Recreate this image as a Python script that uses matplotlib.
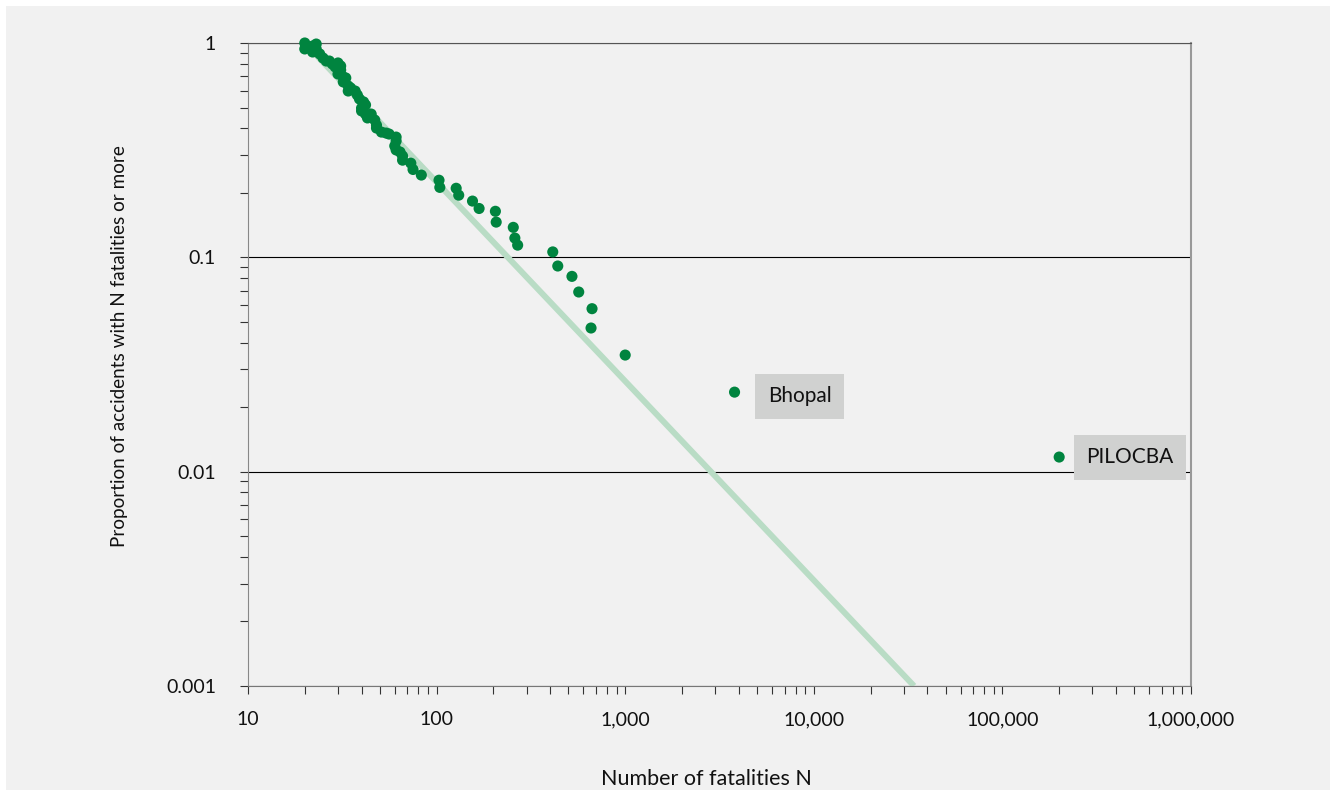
import matplotlib.pyplot as plt  # plotting library
from matplotlib.patches import Rectangle

plt.rcParams['font.family'] = ['Lato', 'DejaVu Sans']

# number of fatalities per accident (N) and share of accidents with N or more
n_fatal = [20, 20, 22, 23, 22, 23, 24, 25, 26, 27, 28, 29, 30, 31, 31, 30, 32, 33,
           32, 34, 35, 34, 37, 38, 39, 41, 42, 40, 40, 42, 45, 43, 47, 48, 48, 51,
           54, 56, 61, 61, 60, 61, 64, 66, 66, 73, 75, 83, 103, 104, 127, 131, 155,
           168, 205, 207, 255, 260, 269, 413, 439, 522, 567, 667, 659, 1000]
proportion = [1.0, 0.938, 0.968, 0.989, 0.908, 0.938, 0.889, 0.851, 0.824, 0.824,
              0.798, 0.773, 0.807, 0.781, 0.748, 0.717, 0.694, 0.687, 0.658, 0.630,
              0.617, 0.597, 0.597, 0.572, 0.548, 0.531, 0.514, 0.497, 0.482, 0.466,
              0.466, 0.447, 0.437, 0.414, 0.401, 0.384, 0.380, 0.376, 0.364, 0.349,
              0.331, 0.317, 0.310, 0.297, 0.284, 0.275, 0.257, 0.242, 0.229, 0.212,
              0.210, 0.195, 0.183, 0.169, 0.164, 0.146, 0.138, 0.123, 0.114, 0.106,
              0.0911, 0.0815, 0.0689, 0.0576, 0.0468, 0.0350]

# labelled accidents
event_names = ['Bhopal', 'PILOCBA']
event_n = [3800, 200000]
event_p = [0.0235, 0.0117]

# fitted power law line (end points)
fit_n = [20, 34000]
fit_p = [1.0, 0.001]

x_ticks = [10, 100, 1000, 10000, 100000, 1000000]
x_tick_labels = ['10', '100', '1,000', '10,000', '100,000', '1,000,000']
y_ticks = [0.001, 0.01, 0.1, 1]
y_tick_labels = ['0.001', '0.01', '0.1', '1']

green = '#00843f'
bg = '#f1f1f1'

fig = plt.figure(figsize=(13.3, 7.9), dpi=100, facecolor='white')
# grey panel with a thin white margin on the top and left
fig.patches.append(Rectangle((6 / 1330, 0), 1, 1 - 6 / 790, transform=fig.transFigure,
                             facecolor=bg, edgecolor='none', zorder=-10))
ax = fig.add_axes([248 / 1330, 1 - 686 / 790, 943 / 1330, 643 / 790])
ax.set_facecolor(bg)

ax.plot(fit_n, fit_p, color='#b9dcc5', lw=4.3, solid_capstyle='butt', zorder=2)
ax.scatter(n_fatal, proportion, s=64, color=green, edgecolors='none', zorder=3, clip_on=False)
ax.scatter(event_n, event_p, s=64, color=green, edgecolors='none', zorder=3)

# grey boxes with the accident names
offsets = [(47, -3), (51, 0)]
for name, n, p, off in zip(event_names, event_n, event_p, offsets):
    ax.annotate(name, xy=(n, p), xytext=off, textcoords='offset points',
                ha='center', va='center', fontsize=15, color='#111111',
                bbox=dict(boxstyle='square,pad=0.6', facecolor='#d0d1d0', edgecolor='none'))

ax.set_xscale('log')
ax.set_yscale('log')
ax.set_xlim(10, 1000000)
ax.set_ylim(0.001, 1)
ax.set_xticks(x_ticks)
ax.set_xticklabels(x_tick_labels)
ax.set_yticks(y_ticks)
ax.set_yticklabels(y_tick_labels)

ax.yaxis.grid(True, which='major', color='black', lw=0.8, zorder=1)
ax.set_axisbelow(True)
ax.tick_params(which='both', direction='out', length=6, width=0.8, color='#333333')
ax.tick_params(axis='x', which='major', labelsize=14, pad=12, labelcolor='#111111')
ax.tick_params(axis='y', which='major', labelsize=14, pad=17, labelcolor='#111111')

ax.spines['top'].set_color('#555555')
ax.spines['left'].set_color('#888888')
ax.spines['bottom'].set_color('#777777')
ax.spines['right'].set_color('#999999')
ax.spines['right'].set_linewidth(1.5)

fig.text(120 / 1330, 1 - 346 / 790, 'Proportion of accidents with N fatalities or more',
         rotation=90, ha='center', va='center', fontsize=13.6, color='#111111')
fig.text(706 / 1330, 1 - 785 / 790, 'Number of fatalities N',
         ha='center', va='baseline', fontsize=15.5, color='#111111')

fig.savefig('out.png', dpi=100, facecolor=fig.get_facecolor())
